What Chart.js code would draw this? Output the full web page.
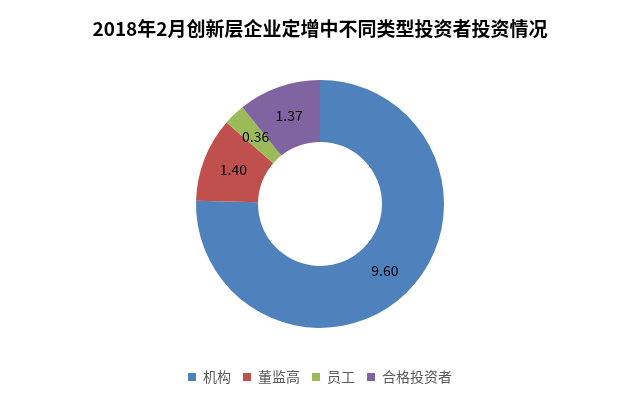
<!DOCTYPE html>
<html>
<head>
<meta charset="utf-8">
<script src="https://cdn.jsdelivr.net/npm/chart.js@4"></script>
<style>
  html, body { margin: 0; padding: 0; background: #fff; }
  #wrap { width: 640px; height: 399px; }
</style>
</head>
<body>
<div id="wrap"><canvas id="chart"></canvas></div>
<script>
const categories = ["机构", "董监高", "员工", "合格投资者"];
const values = [9.60, 1.40, 0.36, 1.37];
const colors = ["#4f81bd", "#c0504d", "#9bbb59", "#8064a2"];

const font = "'Noto Sans CJK SC', 'Microsoft YaHei', sans-serif";

// draw the value inside each slice
const sliceLabels = {
  id: "sliceLabels",
  afterDatasetsDraw(chart) {
    const ctx = chart.ctx;
    const meta = chart.getDatasetMeta(0);
    ctx.save();
    ctx.font = "14px " + font;
    ctx.fillStyle = "#000";
    ctx.textAlign = "center";
    ctx.textBaseline = "middle";
    meta.data.forEach(function (arc, i) {
      const p = arc.tooltipPosition();
      ctx.fillText(values[i].toFixed(2), p.x, p.y);
    });
    ctx.restore();
  },
};

document.addEventListener("DOMContentLoaded", function () {
  const ctx = document.getElementById("chart").getContext("2d");
  new Chart(ctx, {
    type: "doughnut",
    data: {
      labels: categories,
      datasets: [
        {
          data: values,
          backgroundColor: colors,
          borderWidth: 0,
          radius: 124,
          cutout: "50%",
        },
      ],
    },
    options: {
      responsive: true,
      maintainAspectRatio: false,
      animation: false,
      layout: { padding: { top: 9, bottom: 5 } },
      plugins: {
        title: {
          display: true,
          text: "2018年2月创新层企业定增中不同类型投资者投资情况",
          color: "#000",
          font: { family: font, size: 19, weight: "bold" },
          padding: { top: 8, bottom: 10 },
        },
        legend: {
          position: "bottom",
          labels: {
            color: "#595959",
            font: { family: font, size: 14 },
            boxWidth: 8,
            boxHeight: 8,
            padding: 12,
          },
        },
        tooltip: { enabled: false },
      },
    },
    plugins: [sliceLabels],
  });
});
</script>
</body>
</html>
